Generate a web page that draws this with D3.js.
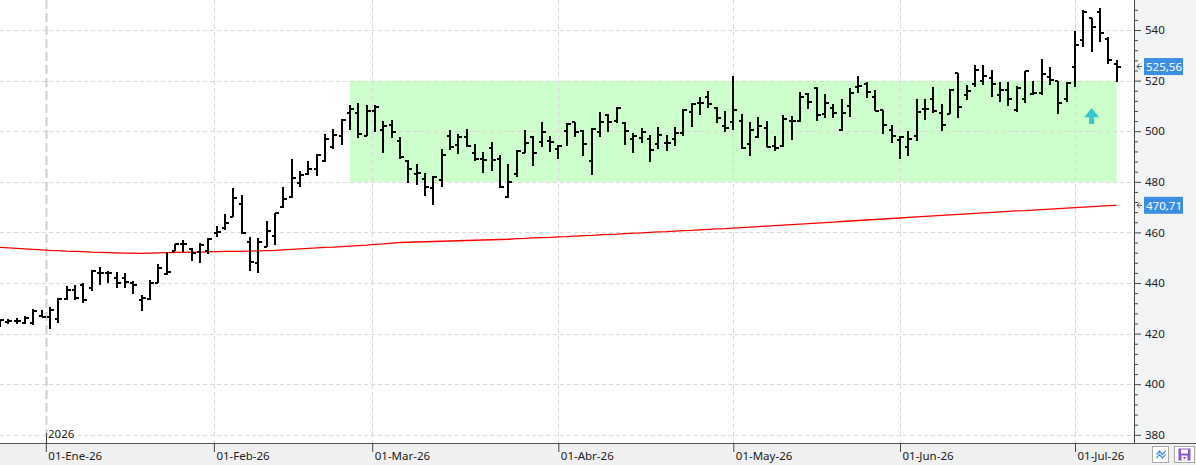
<!DOCTYPE html>
<html><head><meta charset="utf-8">
<script src="https://cdn.jsdelivr.net/npm/d3@7"></script>
<style>
html,body{margin:0;padding:0;background:#fff;overflow:hidden;}
svg{display:block;font-family:"Noto Sans","Open Sans",sans-serif;}
</style></head><body>
<svg id="c" width="1196" height="465"></svg>
<script>
// ---------- categories: trading sessions (US calendar) ----------
const firstSession = "2025-12-23";
const lastSession = "2026-07-09";
const holidays = ["2025-12-25","2026-01-01","2026-01-19","2026-02-16","2026-04-03","2026-05-25","2026-06-19","2026-07-03"];

// ---------- OHLC series ----------
const open = [423.5,424.7,425.1,424.1,424.0,427.0,426.5,425.7,433.7,437.2,
  439.2,437.9,443.8,444.1,441.9,441.9,439.9,433.3,433.5,440.1,
  443.6,452.8,455.4,453.3,452.4,452.5,459.9,461.6,466.2,471.2,
  456.3,448.0,454.4,458.6,469.9,474.1,479.4,483.1,484.9,488.4,
  493.6,498.1,507.1,507.1,498.3,508.1,500.5,502.3,496.3,488.4,
  483.1,481.0,477.4,480.7,498.1,494.5,497.6,491.5,488.9,493.2,
  488.9,474.1,483.1,491.5,497.8,495.9,496.3,492.8,500.2,503.8,
  500.2,488.2,499.8,506.4,504.0,503.4,496.8,497.2,496.8,494.8,
  495.5,496.8,499.2,507.7,511.0,513.4,509.0,502.0,503.5,504.0,
  494.8,497.6,501.1,494.2,494.2,504.2,504.2,514.6,516.9,506.8,
  509.0,500.5,510.0,517.6,518.7,513.4,508.4,500.5,496.5,493.6,
  498.1,508.6,512.6,507.3,506.8,522.9,514.3,518.7,520.0,520.9,
  514.3,516.3,508.4,512.6,514.7,515.0,521.3,520.0,512.6,525.5,
  536.0,544.6,547.2,536.3,526.6];
const high = [425.6,425.6,426.0,427.0,429.6,429.3,430.6,433.9,438.8,439.2,
  439.9,445.1,446.2,444.7,444.5,444.1,440.9,435.3,441.2,447.5,
  452.2,455.4,457.0,453.7,455.9,457.7,462.5,467.3,477.4,474.8,
  458.3,457.7,464.6,467.8,477.8,488.9,484.4,488.4,491.0,498.9,
  500.7,504.7,510.2,511.2,510.2,510.2,503.9,504.3,497.6,488.6,
  487.0,483.3,482.3,492.8,500.5,498.9,500.7,494.9,491.9,495.9,
  490.6,487.0,492.6,500.5,498.1,503.8,498.1,494.5,503.1,503.8,
  500.5,501.1,507.7,506.8,509.4,503.8,499.4,501.1,498.5,501.5,
  498.5,501.5,508.6,511.0,513.4,515.9,509.4,508.0,521.8,506.8,
  503.8,505.7,504.0,498.1,506.4,506.0,515.6,515.0,517.3,514.7,
  510.7,512.6,516.9,521.8,519.6,516.3,508.4,502.4,498.1,500.2,
  512.6,512.6,517.6,510.7,516.5,523.1,518.3,526.2,526.2,524.2,
  519.6,519.6,517.9,523.9,520.0,528.4,525.2,520.0,519.6,539.7,
  547.9,544.6,548.6,537.1,528.1];
const low = [422.8,423.8,423.8,423.8,423.4,426.5,422.0,424.1,433.3,433.3,
  432.2,437.0,439.2,440.1,437.9,437.9,435.5,429.1,433.3,439.9,
  443.2,452.8,452.4,448.8,448.0,451.6,458.0,461.0,466.0,459.4,
  444.9,444.1,454.4,455.0,469.5,473.5,478.1,482.7,482.3,488.0,
  492.8,494.5,500.5,497.4,498.3,499.6,491.5,497.4,488.9,479.6,
  478.7,474.4,470.8,477.8,492.6,491.0,493.6,488.4,483.6,484.4,
  477.4,473.5,482.0,491.5,486.2,493.9,491.9,488.9,494.2,497.6,
  490.2,482.7,497.6,499.8,503.1,494.5,491.2,495.2,488.0,492.8,
  492.3,494.2,498.1,501.8,506.4,509.3,503.4,499.8,500.5,492.8,
  490.2,497.2,493.6,492.3,493.9,496.5,503.8,508.6,504.2,505.1,
  505.1,500.2,505.7,515.2,513.0,508.1,498.9,495.5,488.9,490.2,
  496.3,504.4,507.3,500.2,506.8,505.1,512.3,517.3,518.3,513.6,
  511.7,510.0,507.7,511.3,514.3,514.3,518.3,506.8,511.7,517.6,
  533.4,531.4,535.4,526.6,519.6];
const close = [425.2,425.1,425.1,426.0,428.9,426.7,429.3,433.5,437.2,433.9,
  433.3,444.7,443.8,443.8,440.1,440.5,439.2,433.9,440.1,445.8,
  444.2,455.4,455.4,451.7,455.0,457.3,460.3,463.6,473.5,459.6,
  448.2,456.3,460.7,467.5,473.1,481.4,482.7,484.9,490.6,496.8,
  498.5,504.4,508.6,498.7,508.1,509.5,502.1,499.6,489.9,484.9,
  483.6,478.1,481.8,490.6,493.6,497.8,494.2,488.9,488.6,488.6,
  478.1,480.0,492.3,495.5,491.2,499.8,495.9,494.2,502.8,499.8,
  494.8,500.7,503.8,503.8,509.0,500.1,498.1,499.8,492.6,498.5,
  495.5,499.4,508.4,510.7,511.0,510.7,505.1,501.1,508.4,493.2,
  500.5,502.0,493.9,493.2,504.7,504.2,513.4,511.7,506.4,511.0,
  507.1,507.1,515.0,517.9,515.6,508.1,502.4,498.1,497.6,496.8,
  507.7,508.6,508.1,502.4,516.3,509.4,516.0,524.2,521.8,518.7,
  516.3,512.6,517.0,523.9,515.0,522.6,520.2,511.3,519.2,534.1,
  547.2,541.1,538.7,528.1,525.56];
// 200-session moving average
const ma200 = [454.1,453.9,453.7,453.5,453.3,453.1,452.9,452.8,452.6,452.5,
  452.4,452.2,452.1,452.0,451.9,451.8,451.8,451.7,451.8,451.9,
  452.0,452.1,452.1,452.2,452.2,452.3,452.4,452.5,452.5,452.5,
  452.6,452.7,452.8,452.9,453.1,453.3,453.5,453.7,453.9,454.1,
  454.2,454.4,454.6,454.8,455.0,455.3,455.5,455.8,456.0,456.1,
  456.2,456.3,456.4,456.5,456.6,456.7,456.8,456.9,457.0,457.1,
  457.2,457.3,457.5,457.6,457.8,457.9,458.0,458.2,458.3,458.5,
  458.7,458.8,459.0,459.2,459.3,459.5,459.7,459.8,460.0,460.2,
  460.3,460.5,460.7,460.8,461.0,461.2,461.4,461.5,461.7,461.9,
  462.1,462.3,462.5,462.7,462.9,463.1,463.3,463.5,463.7,463.9,
  464.1,464.3,464.5,464.7,464.9,465.1,465.3,465.5,465.7,465.9,
  466.1,466.3,466.5,466.7,466.9,467.1,467.3,467.5,467.7,467.9,
  468.1,468.3,468.5,468.6,468.8,469.0,469.2,469.4,469.6,469.8,
  470.0,470.2,470.4,470.55,470.71];

// ---------- ticks ----------
const monthTickDates = ["2026-01-01","2026-02-01","2026-03-01","2026-04-01","2026-05-01","2026-06-01","2026-07-01"];
const monthTickLabels = ["01-Ene-26","01-Feb-26","01-Mar-26","01-Abr-26","01-May-26","01-Jun-26","01-Jul-26"];
const yearTickDate = "2026-01-01";
const yearTickLabel = "2026";
const yTickValues = [380,400,420,440,460,480,500,520,540];
const yMinorStep = 4;

// ---------- annotations ----------
const boxStartDate = "2026-02-25";
const boxEndDate = "2026-07-09";
const boxRange = [480, 520];
const arrowDate = "2026-07-06";
const arrowRange = [502.8, 509.2];

// ================= drawing =================
const W = 1196, H = 465;
const plotRight = 1134, plotBottom = 443;
const parse = d3.utcParse("%Y-%m-%d");
const fmtDay = d3.utcFormat("%Y-%m-%d");
const dates = d3.utcDays(parse(firstSession), d3.utcDay.offset(parse(lastSession), 1))
  .filter(d => d.getUTCDay() !== 0 && d.getUTCDay() !== 6 && !holidays.includes(fmtDay(d)));
const n = dates.length;

const x = d3.scaleLinear().domain([0, n - 1]).range([0, 1116.67]);
const y = d3.scaleLinear().domain([380, 540]).range([434.8, 30]);

function fracIndex(s) {
  const t = parse(s);
  const i = d3.bisectRight(dates, t) - 1;
  if (+dates[i] === +t || i >= n - 1) return i;
  return i + (t - dates[i]) / (dates[i + 1] - dates[i]);
}

const svg = d3.select("#c");

// backgrounds
svg.append("rect").attr("x", 0).attr("y", 0).attr("width", plotRight).attr("height", plotBottom).attr("fill", "#ffffff");
svg.append("rect").attr("x", plotRight).attr("y", 0).attr("width", W - plotRight).attr("height", plotBottom).attr("fill", "#f3f4f6");
svg.append("rect").attr("x", 0).attr("y", plotBottom).attr("width", W).attr("height", H - plotBottom).attr("fill", "#f0f0f0");

// green range box
const bx0 = x(fracIndex(boxStartDate)), bx1 = x(fracIndex(boxEndDate));
svg.append("rect")
  .attr("x", bx0).attr("y", y(boxRange[1]))
  .attr("width", bx1 - bx0).attr("height", y(boxRange[0]) - y(boxRange[1]))
  .attr("fill", "#ccffcc");

// grid
const grid = svg.append("g");
yTickValues.forEach(v => {
  grid.append("line").attr("x1", 0).attr("x2", plotRight)
    .attr("y1", Math.round(y(v)) + 0.5).attr("y2", Math.round(y(v)) + 0.5)
    .attr("stroke", "#d9d9d9").attr("stroke-dasharray", "4,3");
});
const monthX = monthTickDates.map(d => x(fracIndex(d)));
monthX.forEach((mx, i) => {
  const isYear = monthTickDates[i] === yearTickDate;
  grid.append("line").attr("x1", Math.round(mx) + 0.5).attr("x2", Math.round(mx) + 0.5)
    .attr("y1", 0).attr("y2", plotBottom)
    .attr("stroke", isYear ? "#cfcfcf" : "#dadada")
    .attr("stroke-width", isYear ? 2 : 1)
    .attr("stroke-dasharray", isYear ? "9,4" : "5,3");
});

// moving average
svg.append("path")
  .datum(ma200)
  .attr("fill", "none").attr("stroke", "#ff0000").attr("stroke-width", 1.3)
  .attr("d", d3.line().x((d, i) => x(i)).y(d => y(d)));

// OHLC bars
const bars = svg.append("g").attr("stroke", "#000").attr("shape-rendering", "crispEdges");
d3.range(n).forEach(i => {
  const cx = Math.round(x(i));
  bars.append("line").attr("x1", cx).attr("x2", cx)
    .attr("y1", y(high[i])).attr("y2", y(low[i])).attr("stroke-width", 2);
  bars.append("line").attr("x1", cx - 3.5).attr("x2", cx)
    .attr("y1", Math.round(y(open[i]))).attr("y2", Math.round(y(open[i]))).attr("stroke-width", 2);
  bars.append("line").attr("x1", cx).attr("x2", cx + 3.5)
    .attr("y1", Math.round(y(close[i]))).attr("y2", Math.round(y(close[i]))).attr("stroke-width", 2);
});

// teal up arrow
{
  const ax = x(fracIndex(arrowDate));
  const top = y(arrowRange[1]), bot = y(arrowRange[0]);
  const mid = top + (bot - top) * 0.58;
  svg.append("path")
    .attr("d", `M${ax},${top} L${ax + 7.5},${mid} L${ax + 2.5},${mid} L${ax + 2.5},${bot} L${ax - 2.5},${bot} L${ax - 2.5},${mid} L${ax - 7.5},${mid} Z`)
    .attr("fill", "#36c9cc");
}

// right axis
const axisG = svg.append("g").attr("transform", `translate(${plotRight},0)`);
const minorTicks = d3.range(380, 552, yMinorStep).filter(v => !yTickValues.includes(v));
axisG.append("g")
  .call(d3.axisRight(y).tickValues(minorTicks).tickSize(4).tickFormat(""))
  .call(g => g.select(".domain").remove())
  .selectAll("line").attr("stroke", "#444");
axisG.append("g")
  .call(d3.axisRight(y).tickValues(yTickValues).tickSize(7).tickPadding(4).tickFormat(d3.format("d")))
  .call(g => g.select(".domain").remove())
  .call(g => g.selectAll("line").attr("stroke", "#444"))
  .call(g => g.selectAll("text").attr("fill", "#222").attr("font-size", "11.5px").attr("font-family", "Noto Sans, Open Sans, sans-serif"));
svg.append("line").attr("x1", plotRight + 0.5).attr("x2", plotRight + 0.5).attr("y1", 0).attr("y2", plotBottom)
  .attr("stroke", "#444");

// bottom axis
svg.append("line").attr("x1", 0).attr("x2", W).attr("y1", plotBottom + 0.5).attr("y2", plotBottom + 0.5).attr("stroke", "#555");
const bottomG = svg.append("g").attr("transform", `translate(0,${plotBottom})`);
bottomG.call(d3.axisBottom(x).tickValues(monthTickDates.map(fracIndex)).tickSize(9).tickFormat((d, i) => monthTickLabels[i]))
  .call(g => g.select(".domain").remove())
  .call(g => g.selectAll("line").attr("stroke", "#444"))
  .call(g => g.selectAll("text").attr("text-anchor", "start").attr("x", 2).attr("y", 16.5).attr("dy", 0)
    .attr("fill", "#222").attr("font-size", "11.5px").attr("font-family", "Noto Sans, Open Sans, sans-serif"));
// year marker
{
  const yx = Math.round(x(fracIndex(yearTickDate))) + 0.5;
  svg.append("line").attr("x1", yx).attr("x2", yx).attr("y1", plotBottom - 10).attr("y2", plotBottom).attr("stroke", "#444");
  svg.append("text").attr("x", yx + 1.5).attr("y", plotBottom - 5).attr("font-size", "11.5px").attr("fill", "#222")
    .text(yearTickLabel);
}

// value labels
function valueLabel(v, text) {
  const cy = y(v);
  svg.append("path").attr("d", `M${plotRight + 6},${cy - 3} L${plotRight + 3},${cy} L${plotRight + 6},${cy + 3} M${plotRight + 3},${cy} L${plotRight + 8},${cy}`)
    .attr("fill", "none").attr("stroke", "#555").attr("stroke-width", 1);
  svg.append("rect").attr("x", plotRight + 10).attr("y", cy - 8.5).attr("width", 39).attr("height", 17).attr("fill", "#3b8ee3");
  svg.append("text").attr("x", plotRight + 12).attr("y", cy + 4.2).attr("fill", "#fff").attr("font-size", "11.5px").text(text);
}
const fmtComma = v => d3.format(".2f")(v).replace(".", ",");
valueLabel(close[n - 1], fmtComma(close[n - 1]));
valueLabel(ma200[n - 1], fmtComma(ma200[n - 1]));

// bottom-right buttons
{
  const b1 = svg.append("g").attr("transform", "translate(1152.5,446.5)");
  b1.append("rect").attr("width", 16).attr("height", 16).attr("fill", "#fff").attr("stroke", "#a8a8a8");
  b1.append("polyline").attr("points", "4,8 7,4.5 10,8 13,4.5").attr("fill", "none").attr("stroke", "#4a8fd8").attr("stroke-width", 1.2);
  b1.append("polyline").attr("points", "4,11.5 7,8 10,11.5 13,8").attr("fill", "none").attr("stroke", "#4a8fd8").attr("stroke-width", 1.2);
  const b2 = svg.append("g").attr("transform", "translate(1174.5,446.5)");
  b2.append("rect").attr("width", 20).attr("height", 16).attr("fill", "#fff").attr("stroke", "#a8a8a8");
  b2.append("rect").attr("x", 4).attr("y", 2).attr("width", 12).attr("height", 12).attr("fill", "#8d56cc");
  b2.append("rect").attr("x", 6.5).attr("y", 3).attr("width", 7).attr("height", 4).attr("fill", "#fff");
  b2.append("rect").attr("x", 7).attr("y", 9).attr("width", 6).attr("height", 5).attr("fill", "#fff");
  b2.append("rect").attr("x", 9).attr("y", 10.5).attr("width", 2).attr("height", 2).attr("fill", "#8d56cc");
}
</script>
</body></html>
